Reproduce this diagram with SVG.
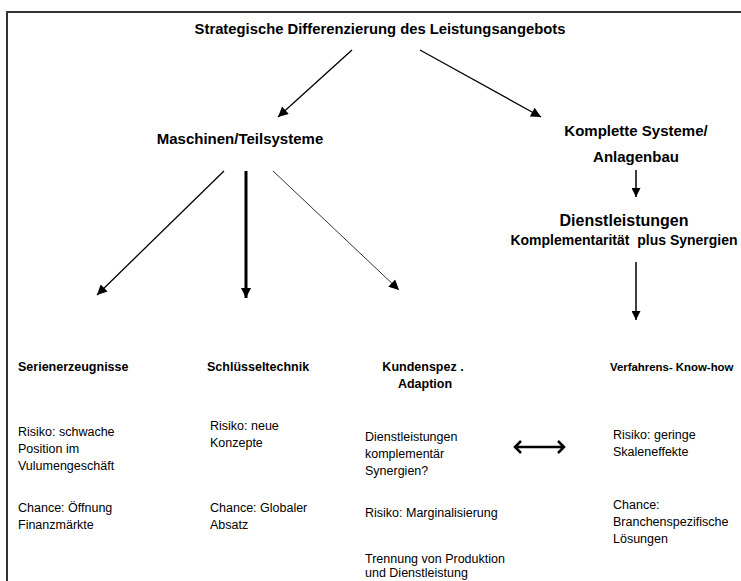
<svg xmlns="http://www.w3.org/2000/svg" width="741" height="581" viewBox="0 0 741 581">
<style>
text{font-family:"Liberation Sans",Arial,sans-serif;fill:#000}
.t{font-weight:bold;font-size:14.8px}
.h{font-weight:bold;font-size:15px}
.hl{font-weight:bold;font-size:16px}
.hs{font-weight:bold;font-size:14px;white-space:pre}
.b{font-weight:bold;font-size:12.5px}
.bs{font-weight:bold;font-size:11.4px}
.r{font-size:12.5px}
.c{text-anchor:middle}
.ln{stroke:#000;fill:none}
</style>
<defs>
<marker id="ah" viewBox="0 0 10 10" refX="10" refY="5" markerWidth="10" markerHeight="9" markerUnits="userSpaceOnUse" orient="auto"><path d="M0,0L10,5L0,10z" fill="#000"/></marker>
<marker id="ahs" viewBox="0 0 10 10" refX="10" refY="5" markerWidth="11" markerHeight="10" markerUnits="userSpaceOnUse" orient="auto"><path d="M0,0L10,5L0,10z" fill="#000"/></marker>
</defs>
<rect width="741" height="581" fill="#fff"/>
<path d="M7,581V12H741" fill="none" stroke="#333" stroke-width="2"/>

<g id="title"><text class="t c" x="380" y="34">Strategische Differenzierung des Leistungsangebots</text></g>
<g id="maschinen"><text class="h c" x="240" y="144">Maschinen/Teilsysteme</text></g>
<g id="komplett"><text class="h c" x="636" y="136">Komplette Systeme/</text><text class="h c" x="636" y="162">Anlagenbau</text></g>
<g id="dienst"><text class="hl c" x="624" y="226">Dienstleistungen</text><text class="hs c" x="624" y="245" xml:space="preserve">Komplementarität  plus Synergien</text></g>

<g id="serien"><text class="b" x="18" y="371">Serienerzeugnisse</text>
<text class="r" x="18" y="436">Risiko: schwache</text><text class="r" x="18" y="453">Position im</text><text class="r" x="18" y="470">Vulumengeschäft</text>
<text class="r" x="18" y="512">Chance: Öffnung</text><text class="r" x="18" y="529">Finanzmärkte</text></g>

<g id="schluessel"><text class="b" x="207" y="371">Schlüsseltechnik</text>
<text class="r" x="210" y="430">Risiko: neue</text><text class="r" x="210" y="447">Konzepte</text>
<text class="r" x="210" y="512">Chance: Globaler</text><text class="r" x="210" y="529">Absatz</text></g>

<g id="kunden"><text class="b c" x="423" y="371">Kundenspez .</text><text class="b c" x="425" y="388">Adaption</text>
<text class="r" x="365" y="441">Dienstleistungen</text><text class="r" x="365" y="458">komplementär</text><text class="r" x="365" y="475">Synergien?</text>
<text class="r" x="365" y="517">Risiko: Marginalisierung</text>
<text class="r" x="365" y="563">Trennung von Produktion</text><text class="r" x="365" y="577">und Dienstleistung</text></g>

<g id="verfahren"><text class="bs" x="610" y="371">Verfahrens- Know-how</text>
<text class="r" x="613" y="439">Risiko: geringe</text><text class="r" x="613" y="456">Skaleneffekte</text>
<text class="r" x="613" y="509">Chance:</text><text class="r" x="613" y="526">Branchenspezifische</text><text class="r" x="613" y="543">Lösungen</text></g>

<g id="connectors">
<line class="ln" x1="352" y1="50" x2="278" y2="117" stroke-width="1.3" marker-end="url(#ahs)"/>
<line class="ln" x1="420" y1="50" x2="541" y2="117" stroke-width="1.3" marker-end="url(#ahs)"/>
<line class="ln" x1="636" y1="170" x2="636" y2="197" stroke-width="1.5" marker-end="url(#ah)"/>
<line class="ln" x1="636" y1="262" x2="636" y2="320" stroke-width="1.5" marker-end="url(#ah)"/>
<line class="ln" x1="224" y1="171" x2="97" y2="295" stroke-width="1.3" marker-end="url(#ahs)"/>
<line class="ln" x1="246" y1="171" x2="246" y2="298" stroke-width="3" marker-end="url(#ahs)"/>
<line class="ln" x1="273" y1="171" x2="399" y2="290" stroke-width="0.8" marker-end="url(#ahs)"/>
<path class="ln" d="M515,447H564M521,441L515,447L521,453M558,441L564,447L558,453" stroke-width="2.5"/>
</g>
</svg>
